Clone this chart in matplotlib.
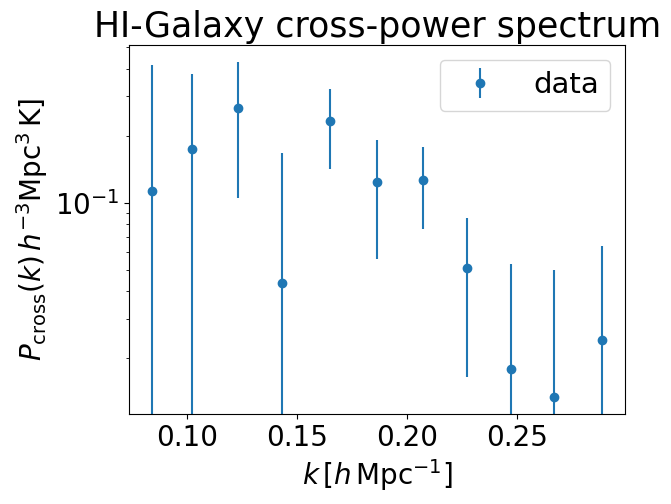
import matplotlib
matplotlib.use('Agg')
import matplotlib.pyplot as plt
import numpy as np

# binned cross-power spectrum
k = [0.0838, 0.1023, 0.1229, 0.1429, 0.1647, 0.1861, 0.2074, 0.2274, 0.2473, 0.2670, 0.2889]
pk = [0.113, 0.175, 0.267, 0.0434, 0.233, 0.124, 0.127, 0.0511, 0.0180, 0.0134, 0.0243]
pk_err = [0.303, 0.204, 0.162, 0.123, 0.091, 0.068, 0.051, 0.0346, 0.0353, 0.0366, 0.0398]

plt.rcParams['font.size'] = 20

fig = plt.figure(figsize=(6.71, 5.04), dpi=100)
ax = fig.add_subplot(111)
fig.subplots_adjust(left=0.1927, right=0.9314, top=0.9107, bottom=0.1786)

ax.errorbar(k, pk, yerr=pk_err, fmt='o', label='data')
ax.set_yscale('log')
ax.set_xlabel(r'$k\,[h\,{\rm Mpc}^{-1}]$')
ax.set_ylabel(r'$P_{\rm cross}(k)\,h^{-3}{\rm Mpc}^3\,{\rm K}]$')
ax.set_title('HI-Galaxy cross-power spectrum', fontsize=25)
ax.legend(fontsize=21)

fig.savefig('out.png', dpi=100)
